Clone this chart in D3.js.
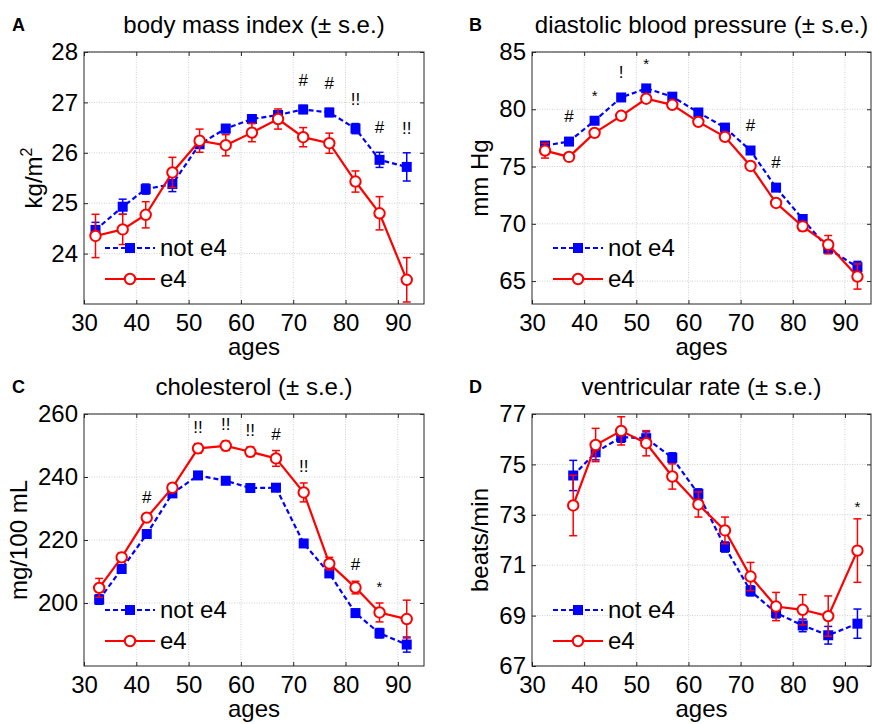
<!DOCTYPE html>
<html>
<head>
<meta charset="utf-8">
<script src="https://cdn.jsdelivr.net/npm/d3@7"></script>
<style>
  body { margin: 0; background: #fff; }
  svg { display: block; font-family: "Liberation Sans", Arial, Helvetica, sans-serif; }
  .grid line { stroke: #cfcfcf; stroke-width: 1; stroke-dasharray: 1,1.5; }
</style>
</head>
<body>
<div id="chart"></div>
<script>

// ---- data ----
var ticksX = [30, 40, 50, 60, 70, 80, 90];

var agesA = [32.2, 37.4, 41.8, 46.9, 52.1, 57.1, 62.1, 67.1, 71.9, 76.9, 81.9, 86.5, 91.7];
var blueA = [24.47, 24.93, 25.28, 25.38, 26.17, 26.48, 26.67, 26.75, 26.86, 26.80, 26.48, 25.86, 25.72];
var blueErrA = [0.15, 0.15, 0.10, 0.15, 0.08, 0.08, 0.08, 0.08, 0.08, 0.08, 0.10, 0.15, 0.28];
var redA = [24.35, 24.48, 24.77, 25.61, 26.24, 26.15, 26.40, 26.67, 26.31, 26.19, 25.43, 24.80, 23.48];
var redErrA = [0.43, 0.30, 0.26, 0.30, 0.23, 0.21, 0.18, 0.20, 0.19, 0.20, 0.21, 0.33, 0.44];
var marksA = [[8, "#"], [9, "#"], [10, "!!"], [11, "#"], [12, "!!"]];

var agesB = [32.5, 37.1, 42.0, 47.1, 51.9, 56.9, 61.9, 67.0, 71.9, 76.8, 81.9, 86.8, 92.4];
var blueB = [76.83, 77.18, 79.0, 81.03, 81.82, 81.1, 79.72, 78.4, 76.4, 73.16, 70.42, 67.83, 66.22];
var blueErrB = [0.3, 0.3, 0.3, 0.3, 0.3, 0.3, 0.3, 0.3, 0.3, 0.3, 0.3, 0.4, 0.5];
var redB = [76.39, 75.84, 77.94, 79.43, 80.92, 80.39, 78.9, 77.59, 75.05, 71.82, 69.78, 68.18, 65.4];
var redErrB = [0.65, 0.3, 0.25, 0.25, 0.25, 0.25, 0.25, 0.25, 0.3, 0.3, 0.4, 0.8, 1.1];
var marksB = [[1, "#"], [2, "*"], [3, "!"], [4, "*"], [8, "#"], [9, "#"]];

var agesC = [32.9, 37.2, 42.0, 46.9, 51.8, 57.1, 61.8, 66.7, 72.0, 76.9, 81.9, 86.5, 91.7];
var blueC = [201.1, 210.8, 221.9, 234.8, 240.5, 238.8, 236.5, 236.6, 218.9, 209.4, 196.8, 190.4, 186.8];
var blueErrC = [1.5, 1.2, 1.0, 1.0, 1.0, 1.0, 1.0, 1.0, 1.0, 1.2, 1.2, 1.5, 2.4];
var redC = [204.8, 214.5, 227.1, 236.6, 249.1, 249.9, 248.0, 245.9, 235.1, 212.5, 204.9, 197.0, 194.9];
var redErrC = [3, 1.5, 1, 1, 1.5, 1.5, 1.5, 2.5, 3, 2, 2, 3, 6];
var marksC = [[2, "#"], [4, "!!"], [5, "!!"], [6, "!!"], [7, "#"], [8, "!!"], [10, "#"], [11, "*"]];

var agesD = [37.9, 42.2, 47.1, 51.9, 56.9, 61.9, 67.0, 71.9, 76.8, 81.9, 86.8, 92.4];
var blueD = [74.56, 75.48, 76.08, 76.04, 75.26, 73.83, 71.72, 69.98, 69.11, 68.61, 68.22, 68.68];
var blueErrD = [0.6, 0.3, 0.2, 0.25, 0.2, 0.2, 0.2, 0.2, 0.2, 0.25, 0.35, 0.58];
var redD = [73.37, 75.77, 76.33, 75.84, 74.52, 73.41, 72.38, 70.55, 69.36, 69.23, 68.98, 71.58];
var redErrD = [1.2, 0.66, 0.56, 0.5, 0.5, 0.5, 0.53, 0.56, 0.56, 0.6, 0.8, 1.26];
var marksD = [[11, "*"]];

var seriesNames = ["not e4", "e4"];
var BLUE = "#0000ff", RED = "#ff0000";

var svg = d3.select("#chart").append("svg")
    .attr("width", 872)
    .attr("height", 724);

/*
 *  Panel - one subplot
 */
Panel = function(opts) {
    this.o = opts;
    this.initVis();
};

Panel.prototype.initVis = function() {
    var vis = this, o = vis.o;

    vis.width = o.width;
    vis.height = 252;

    vis.x = d3.scaleLinear().domain([30, 95]).range([0, vis.width]);
    vis.y = d3.scaleLinear().domain(o.yDomain).range([vis.height, 0]);

    vis.g = svg.append("g")
        .attr("transform", "translate(" + o.left + "," + o.top + ")");

    // grid
    var grid = vis.g.append("g").attr("class", "grid");
    grid.selectAll("line.gx").data(ticksX.slice(1)).enter().append("line")
        .attr("x1", vis.x).attr("x2", vis.x)
        .attr("y1", 0).attr("y2", vis.height);
    grid.selectAll("line.gy").data(o.ticksY).enter().append("line")
        .attr("x1", 0).attr("x2", vis.width)
        .attr("y1", vis.y).attr("y2", vis.y);

    // axes, ticks inside on all four sides
    var fmt = d3.format("d");
    var xAxis = d3.axisBottom(vis.x).tickValues(ticksX).tickFormat(fmt)
        .tickSizeInner(-4).tickSizeOuter(0).tickPadding(9);
    var yAxis = d3.axisLeft(vis.y).tickValues(o.ticksY).tickFormat(fmt)
        .tickSizeInner(-4).tickSizeOuter(0).tickPadding(9);

    var gx = vis.g.append("g").attr("transform", "translate(0," + vis.height + ")").call(xAxis);
    var gy = vis.g.append("g").call(yAxis);
    vis.g.append("g").call(d3.axisTop(vis.x).tickValues(ticksX).tickSizeInner(-4).tickSizeOuter(0).tickFormat(""));
    vis.g.append("g").attr("transform", "translate(" + vis.width + ",0)")
        .call(d3.axisRight(vis.y).tickValues(o.ticksY).tickSizeInner(-4).tickSizeOuter(0).tickFormat(""));

    vis.g.selectAll(".domain").remove();
    vis.g.selectAll(".tick line").attr("stroke", "#262626");
    [gx, gy].forEach(function(a) {
        a.selectAll("text").attr("font-size", 24).attr("fill", "#000")
            .style("font-family", "'Liberation Sans', Arial, sans-serif");
    });
    gx.selectAll("text").attr("dy", "0.71em").attr("y", 10);
    gy.selectAll("text").attr("dx", "3px");

    vis.g.append("rect")
        .attr("width", vis.width).attr("height", vis.height)
        .attr("fill", "none").attr("stroke", "#262626").attr("stroke-width", 1);

    // labels
    vis.g.append("text")
        .attr("x", vis.width / 2).attr("y", -19)
        .attr("text-anchor", "middle").attr("font-size", 24)
        .text(o.title);

    vis.g.append("text")
        .attr("x", vis.width / 2).attr("y", vis.height + 51)
        .attr("text-anchor", "middle").attr("font-size", 24)
        .text("ages");

    var yl = vis.g.append("text")
        .attr("transform", "translate(" + (-o.yLabelOffset) + "," + (vis.height / 2) + ") rotate(-90)")
        .attr("text-anchor", "middle").attr("font-size", 24);
    yl.append("tspan").text(o.yLabel);
    if (o.yLabelSup) {
        yl.append("tspan").attr("font-size", 16).attr("dy", -10).text(o.yLabelSup);
    }

    svg.append("text")
        .attr("x", o.left - o.letterOffset).attr("y", o.top - 21)
        .attr("font-size", 18).attr("font-weight", "bold")
        .text(o.letter);

    vis.updateVis();
};

Panel.prototype.updateVis = function() {
    var vis = this, o = vis.o;

    var blue = o.ages.map(function(a, i) { return { x: a, y: o.blue[i], e: o.blueErr[i] }; });
    var red = o.ages.map(function(a, i) { return { x: a, y: o.red[i], e: o.redErr[i] }; });

    var line = d3.line().x(function(d) { return vis.x(d.x); }).y(function(d) { return vis.y(d.y); });

    function errorBars(data, color) {
        var eb = vis.g.append("g").attr("stroke", color).attr("stroke-width", 1.5);
        eb.selectAll("line.v").data(data).enter().append("line")
            .attr("x1", function(d) { return vis.x(d.x); })
            .attr("x2", function(d) { return vis.x(d.x); })
            .attr("y1", function(d) { return vis.y(d.y - d.e); })
            .attr("y2", function(d) { return vis.y(d.y + d.e); });
        [-1, 1].forEach(function(s) {
            eb.selectAll("line.c" + s).data(data).enter().append("line")
                .attr("x1", function(d) { return vis.x(d.x) - 4; })
                .attr("x2", function(d) { return vis.x(d.x) + 4; })
                .attr("y1", function(d) { return vis.y(d.y + s * d.e); })
                .attr("y2", function(d) { return vis.y(d.y + s * d.e); });
        });
    }

    // not e4 (blue, dashed, squares)
    errorBars(blue, BLUE);
    vis.g.append("path").datum(blue)
        .attr("d", line).attr("fill", "none")
        .attr("stroke", BLUE).attr("stroke-width", 2.2).attr("stroke-dasharray", "5,3");
    vis.g.selectAll("rect.sq").data(blue).enter().append("rect")
        .attr("x", function(d) { return vis.x(d.x) - 5; })
        .attr("y", function(d) { return vis.y(d.y) - 5; })
        .attr("width", 10).attr("height", 10)
        .attr("fill", BLUE);

    // e4 (red, solid, open circles)
    errorBars(red, RED);
    vis.g.append("path").datum(red)
        .attr("d", line).attr("fill", "none")
        .attr("stroke", RED).attr("stroke-width", 2.2);
    vis.g.selectAll("circle.ci").data(red).enter().append("circle")
        .attr("cx", function(d) { return vis.x(d.x); })
        .attr("cy", function(d) { return vis.y(d.y); })
        .attr("r", 5.2)
        .attr("fill", "#fff").attr("stroke", RED).attr("stroke-width", 2);

    // significance marks
    vis.g.selectAll("text.mark").data(o.marks).enter().append("text")
        .attr("x", function(d) { return vis.x(o.ages[d[0]]); })
        .attr("y", function(d) {
            var top = Math.max(o.blue[d[0]] + o.blueErr[d[0]], o.red[d[0]] + o.redErr[d[0]]);
            return vis.y(top) - o.markGap;
        })
        .attr("text-anchor", "middle")
        .attr("font-size", function(d) { return d[1] === "*" ? 15 : 17; })
        .text(function(d) { return d[1]; });

    // legend
    var leg = vis.g.append("g").attr("transform", "translate(21,196)");
    leg.append("line").attr("x1", 0).attr("x2", 50).attr("y1", 0).attr("y2", 0)
        .attr("stroke", BLUE).attr("stroke-width", 2.2).attr("stroke-dasharray", "5,3");
    leg.append("rect").attr("x", 20).attr("y", -5).attr("width", 10).attr("height", 10).attr("fill", BLUE);
    leg.append("line").attr("x1", 0).attr("x2", 50).attr("y1", 31).attr("y2", 31)
        .attr("stroke", RED).attr("stroke-width", 2.2);
    leg.append("circle").attr("cx", 25).attr("cy", 31).attr("r", 5.2)
        .attr("fill", "#fff").attr("stroke", RED).attr("stroke-width", 2);
    leg.selectAll("text").data(seriesNames).enter().append("text")
        .attr("x", 55).attr("y", function(d, i) { return i * 31; })
        .attr("dy", "0.35em").attr("font-size", 24)
        .text(function(d) { return d; });
};

new Panel({ letter: "A", letterOffset: 72, left: 84, top: 52, width: 340,
    title: "body mass index (\u00B1 s.e.)", yLabel: "kg/m", yLabelSup: "2", yLabelOffset: 42,
    yDomain: [23, 28], ticksY: [24, 25, 26, 27, 28],
    ages: agesA, blue: blueA, blueErr: blueErrA, red: redA, redErr: redErrA, marks: marksA, markGap: 19 });

new Panel({ letter: "B", letterOffset: 63, left: 532, top: 52, width: 339,
    title: "diastolic blood pressure (\u00B1 s.e.)", yLabel: "mm Hg", yLabelOffset: 44,
    yDomain: [63, 85], ticksY: [65, 70, 75, 80, 85],
    ages: agesB, blue: blueB, blueErr: blueErrB, red: redB, redErr: redErrB, marks: marksB, markGap: 16 });

new Panel({ letter: "C", letterOffset: 72, left: 84, top: 414, width: 340,
    title: "cholesterol (\u00B1 s.e.)", yLabel: "mg/100 mL", yLabelOffset: 57,
    yDomain: [180, 260], ticksY: [200, 220, 240, 260],
    ages: agesC, blue: blueC, blueErr: blueErrC, red: redC, redErr: redErrC, marks: marksC, markGap: 11 });

new Panel({ letter: "D", letterOffset: 63, left: 532, top: 414, width: 339,
    title: "ventricular rate (\u00B1 s.e.)", yLabel: "beats/min", yLabelOffset: 44,
    yDomain: [67, 77], ticksY: [67, 69, 71, 73, 75, 77],
    ages: agesD, blue: blueD, blueErr: blueErrD, red: redD, redErr: redErrD, marks: marksD, markGap: 7 });

</script>
</body>
</html>
